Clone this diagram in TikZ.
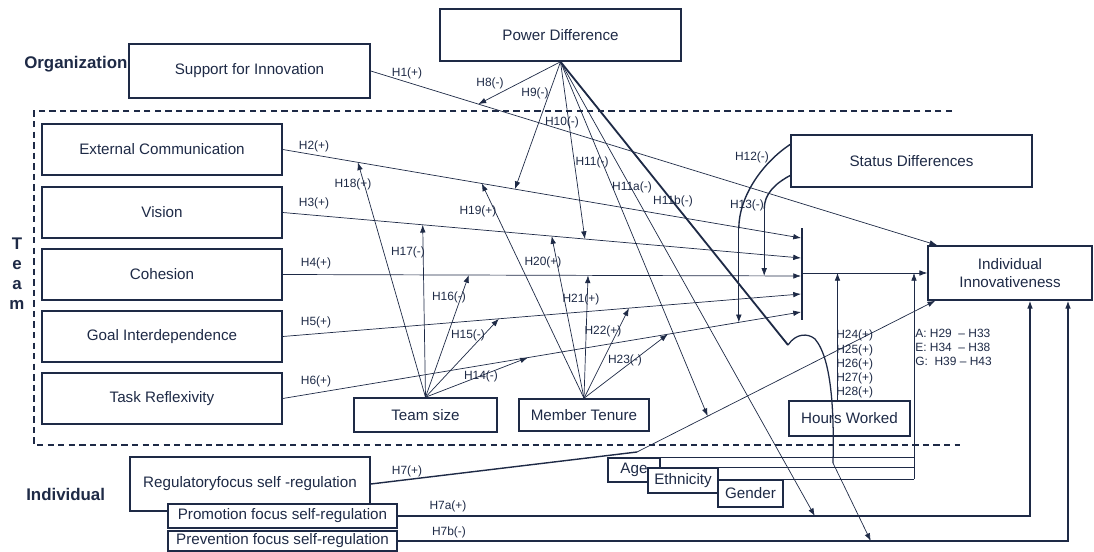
\documentclass[tikz,border=0pt]{standalone}
\usepackage{fontspec}
\setmainfont{Liberation Sans}
\usetikzlibrary{arrows.meta,fit,calc}
\definecolor{navy}{RGB}{30,42,70}
\tikzset{
  box/.style={draw=navy,line width=1.1pt,fill=white,inner sep=0pt},
  boxtxt/.style={text=navy,font=\fontsize{10.8}{12.8}\selectfont,align=center,
                 inner sep=0pt},
  hlbl/.style={text=navy,font=\fontsize{8.5}{10}\selectfont,inner sep=0pt},
  grplbl/.style={text=navy,font=\bfseries\fontsize{12}{14.2}\selectfont,
                 inner sep=0pt,align=center},
  link/.style={draw=navy,line width=0.5pt},
  arr/.style={link,-{Latex[length=5.5pt,width=4pt]}},
  heavy/.style={draw=navy,line width=1.3pt},
  teamframe/.style={draw=navy,line width=1.1pt,dash pattern=on 4.5pt off 3pt}}

\begin{document}
\begin{tikzpicture}[x=0.025cm,y=-0.025cm]
\useasboundingbox (0,0) rectangle (1094,552);

% levels
\node[grplbl,anchor=west] (orgLbl) at (24,64) {Organization};
\node[grplbl] (teamLbl) at (17,274) {T\\e\\a\\m};
\node[grplbl,anchor=west] (indLbl) at (26,494) {Individual};
\draw[teamframe] (952,111) -- (34,111) -- (34,445) -- (960,445);

% boxes
\node[box,fit={(440,9) (681,61)},label={[boxtxt]center:Power Difference}] (pd) {};
\node[box,fit={(129,44) (370,98)},label={[boxtxt]center:Support for Innovation}] (supp) {};
\node[box,fit={(42,124) (282,175)},label={[boxtxt]center:External Communication}] (ext) {};
\node[box,fit={(42,187) (282,238)},label={[boxtxt]center:Vision}] (vis) {};
\node[box,fit={(42,249) (282,300)},label={[boxtxt]center:Cohesion}] (coh) {};
\node[box,fit={(42,311) (282,362)},label={[boxtxt]center:Goal Interdependence}] (goal) {};
\node[box,fit={(42,373) (282,424)},label={[boxtxt]center:Task Reflexivity}] (task) {};
\node[box,fit={(354,398) (497,432)},label={[boxtxt]center:Team size}] (tsize) {};
\node[box,fit={(519,399) (649,431)},label={[boxtxt]center:Member Tenure}] (tenure) {};
\node[box,fit={(791,135) (1032,187)},label={[boxtxt]center:Status Differences}] (status) {};
\node[box,fit={(928,246) (1092,300)},
      label={[boxtxt]center:{Individual\\Innovativeness}}] (indiv) {};
\node[box,fit={(789,401) (910,436)},label={[boxtxt]center:Hours Worked}] (hours) {};
\node[box,fit={(130,457) (370,511)},
      label={[boxtxt]center:Regulatoryfocus self -regulation}] (reg) {};
\node[box,fit={(168,504) (397,528)},
      label={[boxtxt]center:Promotion focus self-regulation}] (promo) {};
\node[box,fit={(168,531) (397,551)},
      label={[boxtxt]center:Prevention focus self-regulation}] (prev) {};
\node[box,fit={(608,458) (660,482)},label={[boxtxt]center:Age}] (age) {};
\node[box,fit={(648,468) (718,493)},label={[boxtxt]center:Ethnicity}] (eth) {};
\node[box,fit={(718,480) (783,507)},label={[boxtxt]center:Gender}] (gender) {};

% bar in front of the outcome
\coordinate (barTop) at (802,228);
\coordinate (barBot) at (802,320);
\coordinate (barMid) at (802,273);
\draw[navy,line width=1.6pt] (barTop) -- (barBot);
\draw[arr] (barMid) -- (barMid -| indiv.west);

% team main effects
\coordinate (b2) at (801,238);
\coordinate (b3) at (801,258);
\coordinate (b4) at (801,276);
\coordinate (b5) at (801,294);
\coordinate (b6) at (801,312);
\draw[arr] (ext.east) -- (b2) coordinate[pos=.145] (t18)
     coordinate[pos=.384] (t19) coordinate[pos=.448] (t9);
\draw[arr] (vis.east) -- (b3) coordinate[pos=.270] (t17)
     coordinate[pos=.519] (t20) coordinate[pos=.583] (t10);
\draw[arr] (coh.east) -- (b4) coordinate[pos=.359] (t16)
     coordinate[pos=.589] (t21) coordinate[pos=.929] (t13);
\draw[arr] (goal.east) -- (b5) coordinate[pos=.417] (t15)
     coordinate[pos=.668] (t22);
\draw[arr] (task.east) -- (b6) coordinate[pos=.473] (t14)
     coordinate[pos=.743] (t23) coordinate[pos=.880] (t12);

% organization and individual effects
\draw[arr] (supp.east) -- ($(indiv.north west)+(10,0)$) coordinate[pos=.19] (t8);
\coordinate (h7bend) at (637,452);
\draw[navy,line width=1pt] (reg.east) -- (h7bend);
\draw[arr] (h7bend) -- ($(indiv.south west)+(8,0)$) coordinate[pos=.237] (t11);
\draw[arr,line width=0.8pt] (promo.east) -| ($(indiv.south)+(20,0)$);
\draw[arr,line width=0.8pt] (prev.east) -| ($(indiv.south)+(58,0)$);
\path (promo.east) -- ++(417,0) coordinate (t11a);
\path (prev.east) -- ++(473,0) coordinate (t11b);

% power difference
\draw[arr] (pd.south) -- (t8);
\draw[arr] (pd.south) -- (t9);
\draw[arr] (pd.south) -- (t10);
\draw[arr] (pd.south) -- (t11);
\draw[arr] (pd.south) -- (t11a);
\coordinate (h11bk) at (788,345);
\coordinate (h11be) at (833,463);
\draw[heavy] (pd.south) -- (h11bk);
\draw[navy,line width=0.9pt] (h11bk) .. controls (796,333) and (808,333) .. (815,339)
     .. controls (833,360) and (834,420) .. (h11be);
\draw[arr] (h11be) -- (t11b);

% status differences
\draw[navy,line width=1pt] ($(status.north west)!.19!(status.south west)$)
     .. controls +(-30,20) and +(0,-30) .. ($(t12)+(0,-94)$);
\draw[arr] ($(t12)+(0,-94)$) -- (t12);
\draw[navy,line width=1pt] ($(status.north west)!.77!(status.south west)$)
     .. controls +(-15,8) and +(0,-15) .. ($(t13)+(0,-67)$);
\draw[arr] ($(t13)+(0,-67)$) -- (t13);

% team size and tenure
\draw[arr] (tsize.north) -- (t14);
\draw[arr] (tsize.north) -- (t15);
\draw[arr] (tsize.north) -- (t16);
\draw[arr] (tsize.north) -- (t17);
\draw[arr] (tsize.north) -- (t18);
\draw[arr] (tenure.north) -- (t19);
\draw[arr] (tenure.north) -- (t20);
\draw[arr] (tenure.north) -- (t21);
\draw[arr] (tenure.north) -- (t22);
\draw[arr] (tenure.north) -- (t23);

% hours and demographics
\coordinate (hw) at ($(hours.north)+(-12,0)$);
\draw[arr] (hw) -- (hw |- barMid);
\coordinate (demX) at (914,300);
\draw[link] (age.north west) -- (age.north west -| demX);
\draw[link] (eth.north west) -- (eth.north west -| demX);
\draw[link] (gender.north west) -- (gender.north west -| demX);
\draw[arr] (gender.north west -| demX) -- (demX |- barMid);

% hypothesis labels
\foreach \nm/\t/\x/\y in {l1/H1(+)/407/73, l2/H2(+)/314/146, l3/H3(+)/314/203,
    l4/H4(+)/316/263, l5/H5(+)/316/322, l6/H6(+)/316/381, l7/H7(+)/407/471,
    l7a/H7a(+)/448/506, l7b/H7b(-)/449/532, l8/H8(-)/490/83, l9/H9(-)/535/93,
    l10/H10(-)/562/122, l11/H11(-)/592/162, l11a/H11a(-)/632/187,
    l11b/H11b(-)/673/201, l12/H12(-)/752/157, l13/H13(-)/747/205,
    l14/H14(-)/481/376, l15/H15(-)/468/335, l16/H16(-)/449/297,
    l17/H17(-)/408/252, l18/H18(+)/353/184, l19/H19(+)/478/211,
    l20/H20(+)/543/262, l21/H21(+)/581/299, l22/H22(+)/603/331,
    l23/H23(-)/625/360}
  \node[hlbl] (\nm) at (\x,\y) {\t};
\node[hlbl,anchor=north west,align=left] (l24) at (836,330)
  {H24(+)\\H25(+)\\H26(+)\\H27(+)\\H28(+)};
\node[hlbl,anchor=north west,align=left] (l29) at (915,329)
  {A: H29 \ -- H33\\E: H34 \ -- H38\\G: \ H39 -- H43};
\end{tikzpicture}
\end{document}
